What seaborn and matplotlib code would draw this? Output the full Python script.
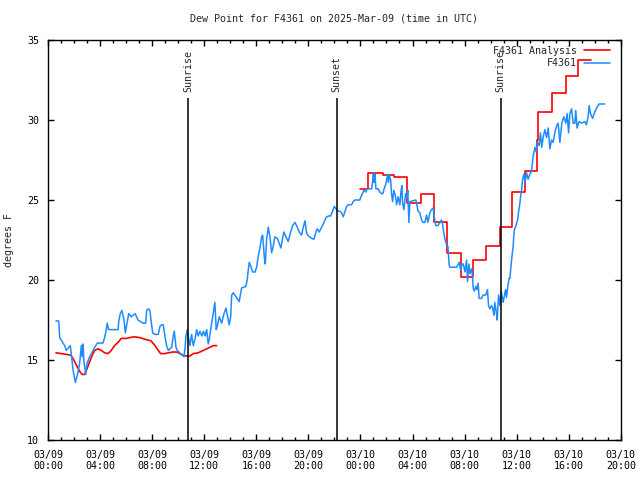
import matplotlib
matplotlib.use('Agg')
import matplotlib.pyplot as plt
import matplotlib.dates as mdates
from matplotlib.ticker import MultipleLocator
import seaborn as sns
import pandas as pd

START = pd.Timestamp('2025-03-09 00:00')

# station observations: hours after 03/09 00:00 UTC, dew point degF
obs_hours = [0.61, 0.82, 0.90, 1.28, 1.41, 1.61, 1.71, 1.79, 1.92, 2.10, 2.30, 2.43, 2.56, 2.63, 2.69,
             2.76, 2.90, 3.00, 3.20, 3.40, 3.59, 3.79, 4.22, 4.35, 4.48, 4.55, 4.66, 4.86, 5.38, 5.45,
             5.55, 5.68, 5.84, 5.94, 6.07, 6.20, 6.40, 6.70, 6.91, 7.30, 7.50, 7.58, 7.70, 7.83, 7.91,
             8.04, 8.22, 8.47, 8.60, 8.73, 8.85, 8.98, 9.11, 9.24, 9.37, 9.50, 9.62, 9.70, 9.83, 9.93,
             10.06, 10.31, 10.44, 10.52, 10.60, 10.70, 10.79, 10.90, 11.03, 11.16, 11.29, 11.42, 11.54,
             11.67, 11.82, 11.94, 12.06, 12.19, 12.31, 12.39, 12.57, 12.69, 12.82, 12.92, 13.00, 13.15,
             13.34, 13.52, 13.67, 13.85, 13.92, 14.03, 14.11, 14.23, 14.49, 14.69, 14.87, 15.20, 15.30,
             15.38, 15.46, 15.56, 15.72, 15.90, 16.03, 16.15, 16.28, 16.41, 16.49, 16.61, 16.69, 16.79,
             16.92, 17.05, 17.18, 17.30, 17.43, 17.61, 17.76, 17.89, 18.02, 18.12, 18.28, 18.45, 18.64,
             18.79, 18.97, 19.15, 19.30, 19.48, 19.61, 19.74, 19.87, 20.07, 20.25, 20.43, 20.58, 20.68,
             20.83, 21.02, 21.20, 21.35, 21.53, 21.71, 21.86, 21.99, 22.17, 22.29, 22.42, 22.55, 22.68,
             22.94, 23.06, 23.32, 23.44, 23.57, 23.96, 24.03, 24.16, 24.26, 24.42, 24.52, 24.86, 24.93,
             24.98, 25.06, 25.11, 25.19, 25.36, 25.49, 25.62, 25.72, 25.82, 25.95, 26.09, 26.15, 26.21,
             26.32, 26.39, 26.47, 26.57, 26.70, 26.78, 26.90, 27.03, 27.11, 27.18, 27.24, 27.34, 27.47,
             27.55, 27.64, 27.72, 27.80, 28.26, 28.43, 28.56, 28.70, 28.80, 28.95, 29.08, 29.18, 29.33,
             29.46, 29.59, 29.66, 29.79, 29.95, 30.10, 30.23, 30.31, 30.41, 30.51, 30.62, 30.72, 30.77,
             30.82, 30.87, 31.39, 31.59, 31.70, 31.80, 31.90, 32.03, 32.15, 32.23, 32.33, 32.41, 32.54,
             32.61, 32.66, 32.74, 32.87, 32.94, 33.04, 33.12, 33.30, 33.43, 33.63, 33.76, 33.84, 33.94,
             34.07, 34.17, 34.25, 34.32, 34.45, 34.50, 34.61, 34.71, 34.81, 34.96, 35.07, 35.15, 35.22,
             35.32, 35.42, 35.48, 35.61, 35.73, 35.81, 35.94, 36.07, 36.17, 36.25, 36.30, 36.38, 36.45,
             36.55, 36.65, 36.76, 36.88, 37.01, 37.14, 37.26, 37.40, 37.50, 37.60, 37.73, 37.83, 37.93,
             38.04, 38.17, 38.30, 38.42, 38.55, 38.68, 38.80, 38.93, 39.06, 39.19, 39.32, 39.47, 39.62,
             39.78, 39.88, 39.99, 40.09, 40.22, 40.34, 40.47, 40.54, 40.64, 40.80, 40.98, 41.23, 41.36,
             41.49, 41.57, 41.67, 41.83, 42.00, 42.18, 42.33, 42.77]
obs_dewpt = [17.44, 17.44, 16.4, 15.9, 15.6, 15.8, 15.9, 15.4, 14.4, 13.6, 14.2, 14.8, 15.9, 15.2, 16.0,
             14.9, 14.1, 14.8, 15.2, 15.5, 15.8, 16.06, 16.06, 16.4, 16.9, 17.3, 16.9, 16.9, 16.9, 17.5,
             17.9, 18.1, 17.5, 16.7, 17.3, 17.9, 17.7, 17.9, 17.5, 17.3, 17.3, 18.1, 18.2, 18.1, 17.5,
             16.7, 16.6, 16.6, 17.1, 17.2, 17.2, 16.5, 15.9, 15.6, 15.7, 15.8, 16.5, 16.8, 15.8, 15.6,
             15.5, 15.3, 15.2, 15.7, 16.5, 16.9, 16.4, 15.9, 16.6, 15.9, 16.3, 16.9, 16.5,
             16.8, 16.5, 16.8, 16.5, 16.9, 16.0, 16.3, 17.3, 17.9, 18.6, 16.9, 17.1, 17.7,
             17.3, 17.9, 18.25, 17.5, 17.2, 17.7, 19.06, 19.2, 18.9, 18.65, 19.5, 19.6, 20.0,
             20.6, 21.1, 20.9, 20.5, 20.5, 20.8, 21.5, 22.0, 22.7, 22.8, 21.5, 21.0, 22.5,
             23.3, 22.7, 21.7, 22.1, 22.7, 22.6, 22.3, 22.0, 22.6, 23.0, 22.7, 22.4, 23.0,
             23.4, 23.6, 23.3, 23.0, 22.8, 23.3, 23.7, 22.9, 22.7, 22.6, 22.55, 23.0, 23.2,
             23.0, 23.3, 23.6, 23.9, 24.0, 24.0, 24.3, 24.6, 24.4, 24.3, 24.3, 24.2, 23.95,
             24.6, 24.7, 24.7, 24.9, 25.0, 25.0, 25.2, 25.4, 25.6, 25.5, 25.7, 25.7, 26.1,
             26.7, 26.1, 26.6, 25.7, 25.7, 25.5, 25.4, 25.4, 25.7, 26.0, 26.6, 26.1, 26.6,
             26.25, 25.4, 24.9, 25.6, 25.2, 24.7, 25.2, 24.7, 25.5, 25.9, 24.8, 24.4, 25.4,
             25.1, 25.6, 23.6, 24.9, 25.0, 24.3, 24.2, 23.75, 23.6, 23.6, 24.06, 23.6, 24.2,
             24.4, 24.5, 23.95, 23.4, 23.4, 23.6, 23.75, 23.5, 22.9, 22.5, 22.2, 22.1, 21.5,
             20.9, 20.8, 20.8, 21.1, 20.6, 21.0, 21.0, 20.5, 21.25, 19.9, 21.0, 20.4, 20.7,
             20.2, 19.5, 19.3, 19.6, 19.4, 19.8, 18.85, 18.85, 19.06, 19.06, 19.4, 18.4, 18.2,
             18.4, 18.2, 17.8, 18.6, 17.9, 17.5, 19.06, 18.4, 19.3, 18.6, 19.06, 19.4, 18.9,
             19.6, 20.1, 20.1, 21.25, 22.1, 23.1, 23.4, 23.75, 24.4, 24.8, 25.2, 25.6, 26.25,
             26.6, 26.1, 26.7, 26.3, 26.6, 26.8, 27.7, 28.3, 28.0, 28.6, 28.4, 29.2, 28.3,
             28.95, 29.4, 28.9, 29.5, 28.2, 28.75, 28.6, 29.2, 29.6, 29.8, 28.6, 29.8, 30.2,
             29.8, 30.4, 29.2, 30.4, 30.7, 29.8, 29.8, 30.6, 29.5, 29.9, 29.8, 29.9, 29.7,
             30.2, 30.9, 30.4, 30.1, 30.5, 30.8, 31.0, 31.0]

# analysis, first (smooth) part
ana1_hours = [0.61, 1.02, 1.41, 1.74, 1.92, 2.17, 2.43, 2.61, 2.82, 3.02, 3.20, 3.40, 3.59, 3.84, 4.09,
              4.35, 4.61, 4.86, 5.12, 5.38, 5.63, 6.01, 6.27, 6.66, 7.04, 7.43, 7.91, 8.22, 8.47, 8.65,
              8.98, 9.24, 9.58, 9.88, 10.14, 10.39, 10.65, 10.90, 11.16, 11.54, 11.93, 12.19, 12.44,
              12.69, 12.95]
ana1_dewpt = [15.45, 15.4, 15.35, 15.3, 15.1, 14.7, 14.3, 14.1, 14.1, 14.5, 14.9, 15.3, 15.6, 15.7, 15.6,
              15.45, 15.4, 15.6, 15.9, 16.1, 16.35, 16.35, 16.4, 16.45, 16.4, 16.3, 16.2, 15.9, 15.6, 15.4,
              15.4, 15.45, 15.5, 15.5, 15.4, 15.3, 15.25, 15.25, 15.4, 15.45, 15.6, 15.7, 15.8,
              15.9, 15.9]

# analysis, second (hourly step) part
ana2_hours = [23.96, 24.60, 25.70, 26.61, 27.60, 28.64, 29.64, 30.67, 31.72, 32.67, 33.67, 34.72,
              35.67, 36.65, 37.57, 37.65, 38.68, 39.76, 40.72, 41.68]
ana2_dewpt = [25.7, 26.7, 26.56, 26.45, 24.8, 25.35, 23.6, 21.7, 20.17, 21.25, 22.1, 23.3,
              25.5, 26.8, 28.75, 30.5, 31.7, 32.75, 33.75, 33.75]

event_hours = [10.75, 22.19, 34.78]
event_names = ['Sunrise', 'Sunset', 'Sunrise']

FS = 7.2


def to_time(hours):
    return START + pd.to_timedelta(hours, unit='h')


obs = pd.DataFrame({'time': to_time(obs_hours), 'dewpt': obs_dewpt})
ana1 = pd.DataFrame({'time': to_time(ana1_hours), 'dewpt': ana1_dewpt})
ana2 = pd.DataFrame({'time': to_time(ana2_hours), 'dewpt': ana2_dewpt})

sns.set_style('ticks')
plt.rcParams['font.family'] = ['DejaVu Sans Mono']
plt.rcParams['font.size'] = FS

fig = plt.figure(figsize=(6.4, 4.8), dpi=100)
ax = fig.add_axes([0.075, 0.0833, 0.895, 0.8334])

sns.lineplot(data=ana1, x='time', y='dewpt', color='#ff0000', lw=1.2, estimator=None, sort=False,
             ax=ax, label='F4361 Analysis')
sns.lineplot(data=ana2, x='time', y='dewpt', color='#ff0000', lw=1.2, estimator=None, sort=False,
             drawstyle='steps-post', ax=ax, label='_nolegend_')
sns.lineplot(data=obs, x='time', y='dewpt', color='#1e8cff', lw=1.1, estimator=None, sort=False,
             ax=ax, label='F4361')

ev_times = to_time(event_hours)
ax.vlines(ev_times, 10, 31.4, color='black', lw=1.1)
for t, name in zip(ev_times, event_names):
    ax.text(t, 31.75, name, rotation=90, ha='center', va='bottom', fontsize=FS)

ax.set_xlim(START, START + pd.Timedelta(hours=44))
ax.set_ylim(10, 35)
ax.xaxis.set_major_locator(mdates.HourLocator(byhour=range(0, 24, 4)))
ax.xaxis.set_minor_locator(mdates.HourLocator())
ax.xaxis.set_major_formatter(mdates.DateFormatter('%m/%d\n%H:%M'))
ax.yaxis.set_major_locator(MultipleLocator(5))
ax.tick_params(which='both', direction='in', top=True, right=True, width=1, colors='black',
               labelsize=FS)
ax.tick_params(which='major', length=4)
ax.tick_params(which='minor', length=2)
ax.tick_params(axis='x', pad=7)
ax.tick_params(axis='y', pad=6.5)
for s in ax.spines.values():
    s.set_linewidth(1)
    s.set_color('black')

ax.set_xlabel('')
ax.set_ylabel('degrees F', fontsize=FS, labelpad=9)
ax.set_title('Dew Point for F4361 on 2025-Mar-09 (time in UTC)', fontsize=FS, pad=13)
ax.legend(loc='upper right', bbox_to_anchor=(0.993, 1.003), frameon=False, markerfirst=False,
          fontsize=FS, handlelength=2.6, borderaxespad=0.3, labelspacing=0.25, handletextpad=0.7)

fig.savefig('out.png', dpi=100)
